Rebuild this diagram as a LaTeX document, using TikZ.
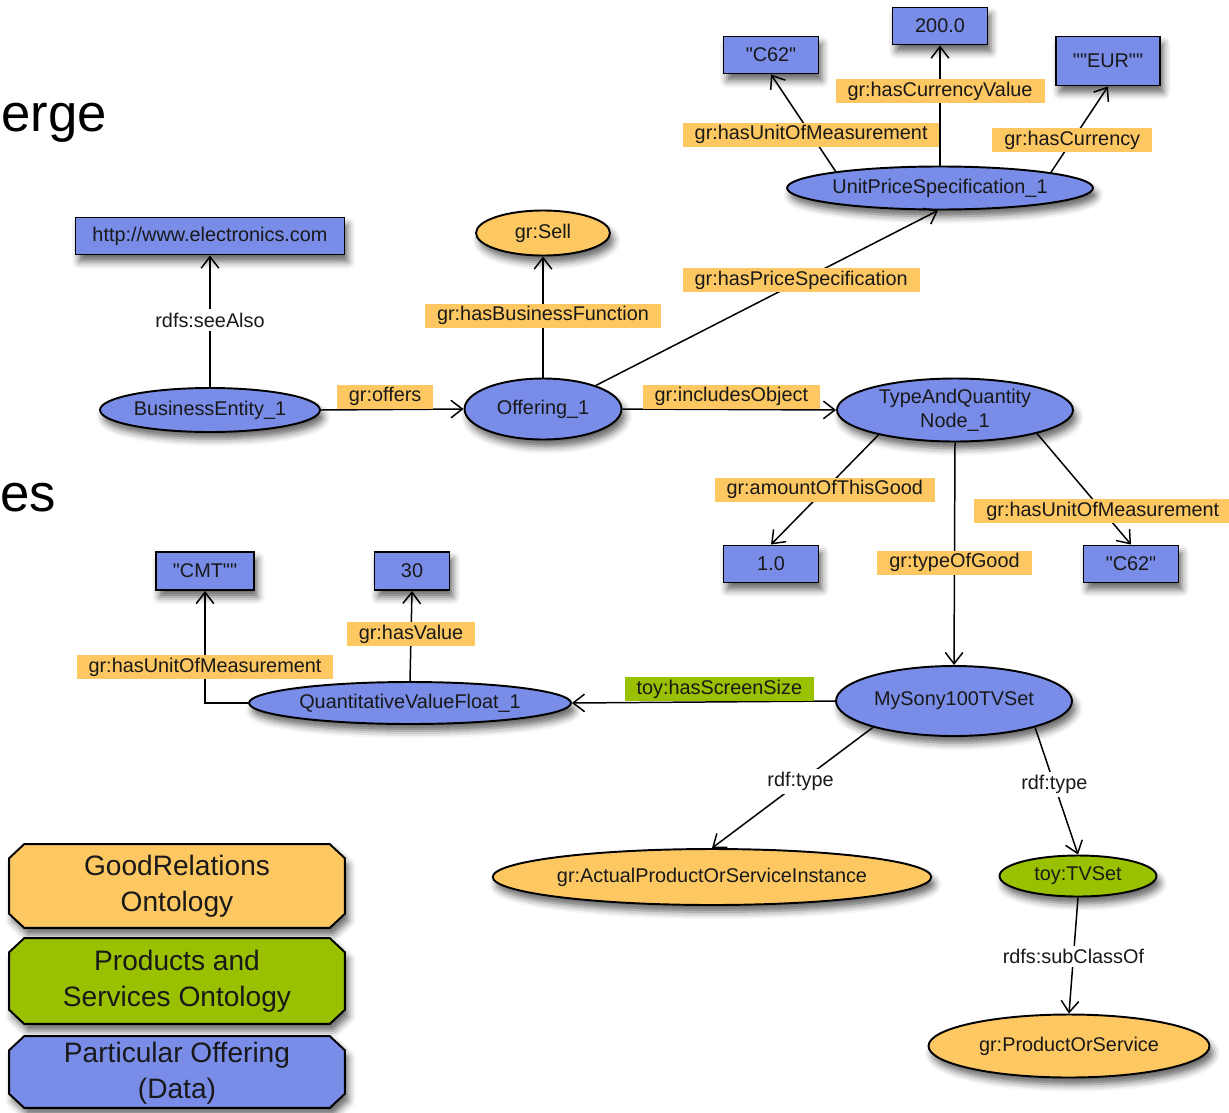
\documentclass[tikz,border=0pt]{standalone}
\usepackage{fontspec}
\setmainfont{Liberation Sans}
\newfontfamily\plainsans{Liberation Sans}
\usetikzlibrary{shapes.geometric,arrows.meta,shadows.blur}

\definecolor{datablue}{RGB}{120,140,232}
\definecolor{grorange}{RGB}{253,200,98}
\definecolor{toygreen}{RGB}{153,193,0}
\definecolor{inktext}{RGB}{25,25,25}

\begin{document}
\begin{tikzpicture}[x=0.02cm, y=-0.02cm,
    font=\fontsize{11.3}{13.5}\selectfont, text=inktext,
    softshadow/.style={blur shadow={shadow xshift=2pt, shadow yshift=-4pt, shadow blur radius=4pt, shadow opacity=60}},
    literal/.style={draw, line width=1.1pt, fill=datablue, rectangle, minimum width=1.9cm, minimum height=0.74cm, inner xsep=0.34cm, softshadow},
    quoted/.style={literal, font=\fontsize{11.3}{13.5}\plainsans},
    res/.style={draw, line width=1.1pt, ellipse, inner sep=0pt, align=center, softshadow},
    inst/.style={res, fill=datablue},
    grclass/.style={res, fill=grorange},
    toyclass/.style={res, fill=toygreen},
    prop/.style={fill=grorange, inner xsep=0.24cm, inner ysep=0pt, minimum height=0.48cm},
    toyprop/.style={prop, fill=toygreen},
    rdfprop/.style={fill=white, inner xsep=1pt, inner ysep=2pt},
    link/.style={line width=0.85pt, -{Straight Barb[length=6.5pt, width=10pt, line width=0.85pt]}},
    layerspan/.style={rectangle, inner sep=0pt, minimum width=6.7cm},
    layer/.style={draw, line width=1.1pt, softshadow},
    layertext/.style={align=center, font=\fontsize{16}{20.5}\selectfont}
  ]
    \useasboundingbox (0,0) rectangle (1229,1112);

    % 左侧残字
    \node[anchor=base west, inner sep=0pt, font=\fontsize{30}{32}\selectfont, text=black] (frag1) at (1,131) {erge};
    \node[anchor=base west, inner sep=0pt, font=\fontsize{30}{32}\selectfont, text=black] (frag2) at (0,511) {es};

    % 数据节点
    \node[quoted] (c62a) at (771,55) {"C62"};
    \node[literal] (val200) at (940,26) {200.0};
    \node[quoted, minimum height=0.98cm] (eur) at (1108,61) {""EUR""};
    \node[inst, minimum width=6.12cm, minimum height=0.86cm] (upspec) at (940,188) {UnitPriceSpecification\_1};
    \node[literal] (url) at (210,236) {http://www.electronics.com};
    \node[grclass, minimum width=2.68cm, minimum height=0.9cm] (sell) at (543,233) {gr:Sell};
    \node[inst, minimum width=4.4cm, minimum height=0.88cm] (bizent) at (210,410) {BusinessEntity\_1};
    \node[inst, minimum width=3.14cm, minimum height=1.22cm] (offering) at (543,409) {Offering\_1};
    \node[inst, minimum width=4.72cm, minimum height=1.26cm] (taqn) at (955,410) {TypeAndQuantity\\Node\_1};
    \node[literal] (one) at (771,564) {1.0};
    \node[quoted] (c62b) at (1131,564) {"C62"};
    \node[quoted, minimum width=1.86cm, minimum height=0.76cm] (cmt) at (205,571) {"CMT""};
    \node[literal, minimum width=1.5cm, minimum height=0.76cm] (thirty) at (412,571) {30};
    \node[inst, minimum width=6.44cm, minimum height=0.84cm] (qvf) at (410,703) {QuantitativeValueFloat\_1};
    \node[inst, minimum width=4.72cm, minimum height=1.4cm] (sony) at (954,701) {MySony100TVSet};
    \node[grclass, minimum width=8.46cm, minimum height=1.12cm] (apsi) at (712,877) {gr:ActualProductOrServiceInstance};
    \node[toyclass, minimum width=3.14cm, minimum height=0.82cm] (tvset) at (1078,876) {toy:TVSet};
    \node[grclass, minimum width=5.62cm, minimum height=1.26cm] (pos) at (1069,1046) {gr:ProductOrService};

    % 关系
    \draw[link] (upspec.171) -- (c62a.south) node[prop, pos=0.38] {gr:hasUnitOfMeasurement};
    \draw[link] (upspec.north) -- (val200.south) node[prop, pos=0.62] {gr:hasCurrencyValue};
    \draw[link] (upspec.8) -- (eur.south) node[prop, pos=0.375] {gr:hasCurrency};
    \draw[link] (bizent.north) -- (url.south) node[rdfprop, pos=0.51] {rdfs:seeAlso};
    \draw[link] (bizent.east) -- (offering.west) node[prop, pos=0.45, above] {gr:offers};
    \draw[link] (offering.north) -- (sell.south) node[prop, pos=0.51] {gr:hasBusinessFunction};
    \draw[link] (offering.24) -- (upspec.265) node[prop, pos=0.6] {gr:hasPriceSpecification};
    \draw[link] (offering.east) -- (taqn.west) node[prop, pos=0.51, above] {gr:includesObject};
    \draw[link] (taqn.198) -- (one.north) node[prop, pos=0.5] {gr:amountOfThisGood};
    \draw[link] (taqn.-16) -- (c62b.north) node[prop, pos=0.7] {gr:hasUnitOfMeasurement};
    \draw[link] (taqn.south) -- (sony.north) node[prop, pos=0.54] {gr:typeOfGood};
    \draw[link] (sony.west) -- (qvf.east) node[toyprop, pos=0.44, above] {toy:hasScreenSize};
    \draw[link] (qvf.north) -- (thirty.south) node[prop, pos=0.52] {gr:hasValue};
    \draw[link] (qvf.west) -| (cmt.south) node[prop, pos=0.66] {gr:hasUnitOfMeasurement};
    \draw[link] (sony.198) -- (apsi.north) node[rdfprop, pos=0.45] {rdf:type};
    \draw[link] (sony.-18) -- (tvset.north) node[rdfprop, pos=0.45] {rdf:type};
    \draw[link] (tvset.south) -- (pos.north) node[rdfprop, pos=0.51] {rdfs:subClassOf};

    % 图例
    \node[layerspan, minimum height=1.66cm] (lgr) at (177,886) {};
    \node[layerspan, minimum height=1.7cm] (lps) at (177,981) {};
    \node[layerspan, minimum height=1.42cm] (lpo) at (177,1072) {};
    \foreach \lay/\col in {lgr/grorange, lps/toygreen, lpo/datablue}
      \draw[layer, fill=\col] ([xshift=0.3cm]\lay.north west) -- ([xshift=-0.3cm]\lay.north east)
        -- ([yshift=-0.28cm]\lay.north east) -- ([yshift=0.28cm]\lay.south east)
        -- ([xshift=-0.3cm]\lay.south east) -- ([xshift=0.3cm]\lay.south west)
        -- ([yshift=0.28cm]\lay.south west) -- ([yshift=-0.28cm]\lay.north west) -- cycle;
    \node[layertext] (lgrtext) at (lgr) {GoodRelations\\Ontology};
    \node[layertext] (lpstext) at (lps) {Products and\\Services Ontology};
    \node[layertext] (lpotext) at ([yshift=-0.02cm]lpo) {Particular Offering\\(Data)};
\end{tikzpicture}
\end{document}
